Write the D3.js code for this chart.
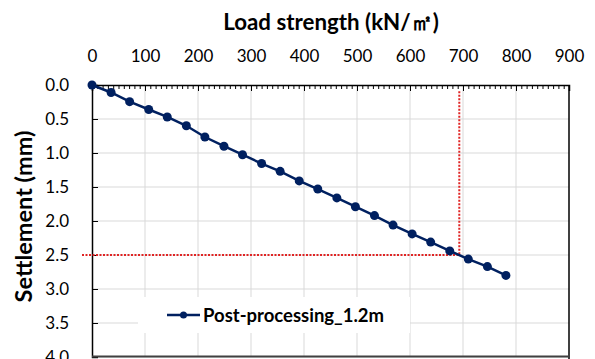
<!DOCTYPE html>
<html>
<head>
<meta charset="utf-8">
<script src="https://cdn.jsdelivr.net/npm/d3@7"></script>
<style>
  body { margin: 0; background: #fff; }
  text { font-family: Lato, "Noto Sans", sans-serif; }
</style>
</head>
<body>
<div id="chart"></div>
<script>
// values
const loads = [0, 36, 71, 107, 142, 178, 213, 249, 284, 320, 355, 391, 426, 462, 497, 533, 568, 604, 639, 675, 710, 746, 781];
const settlement = [0, 0.11, 0.245, 0.36, 0.47, 0.60, 0.765, 0.90, 1.025, 1.155, 1.27, 1.41, 1.53, 1.66, 1.79, 1.92, 2.06, 2.19, 2.31, 2.44, 2.56, 2.67, 2.80];
const xTicks = [0, 100, 200, 300, 400, 500, 600, 700, 800, 900];
const yTicks = [0, 0.5, 1, 1.5, 2, 2.5, 3, 3.5, 4];
const seriesName = 'Post-processing_1.2m';
const limitSettlement = 2.5;
const limitLoad = 693;

const width = 595, height = 359;
const plot = { left: 92, top: 85, right: 569, bottom: 357 };

const svg = d3.select('#chart')
  .append('svg')
  .attr('width', width)
  .attr('height', height);

const x = d3.scaleLinear().domain([0, 900]).range([plot.left, plot.right]);
const y = d3.scaleLinear().domain([0, 4]).range([plot.top, plot.bottom]);

// gridlines
svg.append('g')
  .selectAll('line.vg')
  .data(xTicks.slice(1, -1))
  .enter()
  .append('line')
  .attr('x1', d => x(d)).attr('x2', d => x(d))
  .attr('y1', plot.top).attr('y2', plot.bottom)
  .attr('stroke', '#d9d9d9').attr('stroke-width', 1);

svg.append('g')
  .selectAll('line.hg')
  .data(yTicks.slice(1))
  .enter()
  .append('line')
  .attr('x1', plot.left).attr('x2', plot.right)
  .attr('y1', d => y(d)).attr('y2', d => y(d))
  .attr('stroke', '#d9d9d9').attr('stroke-width', 1);

// minor ticks on top axis (every 10)
const minorAxis = d3.axisTop(x)
  .tickValues(d3.range(0, 901, 10))
  .tickSize(-4)
  .tickFormat('');
svg.append('g')
  .attr('transform', `translate(0,${plot.top})`)
  .call(minorAxis)
  .call(g => g.select('.domain').remove())
  .selectAll('line').attr('stroke', '#000');

// top axis
const xAxis = d3.axisTop(x)
  .tickValues(xTicks)
  .tickSize(-6)
  .tickPadding(23)
  .tickFormat(d3.format('d'));
svg.append('g')
  .attr('transform', `translate(0,${plot.top})`)
  .call(xAxis)
  .call(g => g.select('.domain').attr('stroke', '#000').attr('stroke-width', 1.5))
  .call(g => g.selectAll('line').attr('stroke', '#000'))
  .call(g => g.selectAll('text').attr('font-size', 17).attr('fill', '#000'));

// left axis
const yAxis = d3.axisLeft(y)
  .tickValues(yTicks)
  .tickSize(-6)
  .tickPadding(23)
  .tickFormat(d3.format('.1f'));
svg.append('g')
  .attr('transform', `translate(${plot.left},0)`)
  .call(yAxis)
  .call(g => g.select('.domain').attr('stroke', '#000').attr('stroke-width', 1.5))
  .call(g => g.selectAll('line').attr('stroke', '#000'))
  .call(g => g.selectAll('text').attr('font-size', 17).attr('fill', '#000'));

// right and bottom border
svg.append('line')
  .attr('x1', plot.right).attr('x2', plot.right)
  .attr('y1', plot.top).attr('y2', height)
  .attr('stroke', '#000').attr('stroke-width', 1.5);
svg.append('line')
  .attr('x1', plot.left).attr('x2', plot.right)
  .attr('y1', 356.5).attr('y2', 356.5)
  .attr('stroke', '#404040').attr('stroke-width', 2);

// red dotted guide lines
svg.append('path')
  .attr('d', `M${x(0) - 10},${y(limitSettlement)}H${x(limitLoad)}V${y(0.07)}`)
  .attr('fill', 'none')
  .attr('stroke', '#e02424')
  .attr('stroke-width', 2)
  .attr('stroke-dasharray', '2,1.5');

// series line and markers
const line = d3.line().x((d, i) => x(loads[i])).y(d => y(d));
svg.append('path')
  .datum(settlement)
  .attr('d', line)
  .attr('fill', 'none')
  .attr('stroke', '#002060')
  .attr('stroke-width', 2.5);

svg.selectAll('circle.pt')
  .data(settlement)
  .enter()
  .append('circle')
  .attr('class', 'pt')
  .attr('cx', (d, i) => x(loads[i]))
  .attr('cy', d => y(d))
  .attr('r', 4.5)
  .attr('fill', '#002060');

// legend
const lg = svg.append('g');
lg.append('rect')
  .attr('x', 138).attr('y', 297).attr('width', 272).attr('height', 36)
  .attr('fill', '#fff');
lg.append('line')
  .attr('x1', 167).attr('x2', 200).attr('y1', 315).attr('y2', 315)
  .attr('stroke', '#002060').attr('stroke-width', 2.5);
lg.append('circle')
  .attr('cx', 183.5).attr('cy', 315).attr('r', 3.5)
  .attr('fill', '#002060');
lg.append('text')
  .attr('x', 203).attr('y', 322)
  .attr('font-size', 18.5).attr('font-weight', 'bold')
  .text(seriesName);

// titles
svg.append('text')
  .attr('x', 331).attr('y', 30)
  .attr('text-anchor', 'middle')
  .attr('font-size', 22.3).attr('font-weight', 'bold')
  .text('Load strength (kN/㎡)');

svg.append('text')
  .attr('transform', 'translate(32,216.5) rotate(-90)')
  .attr('text-anchor', 'middle')
  .attr('font-size', 23.5).attr('font-weight', 'bold')
  .text('Settlement (mm)');
</script>
</body>
</html>
